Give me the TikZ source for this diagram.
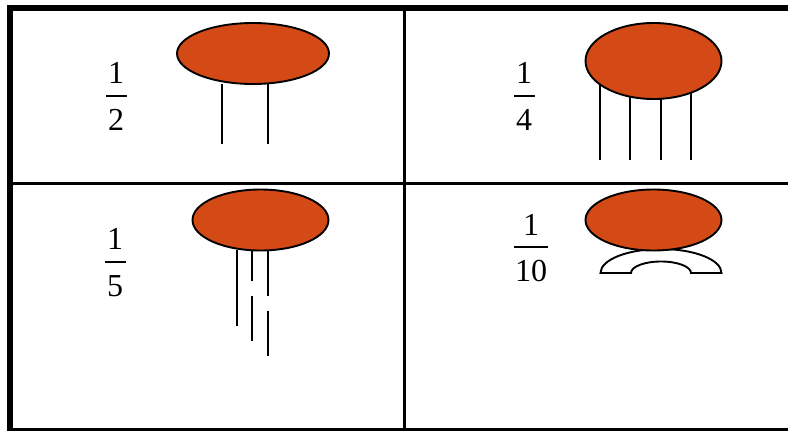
\documentclass[tikz,border=0pt]{standalone}
\usepackage{fontspec}
\setmainfont{Liberation Serif}
\definecolor{blobfill}{HTML}{D34A16}
\tikzset{
  blob/.style={draw=black,fill=blobfill,line width=1.9pt},
  drop/.style={draw=black,line width=1.9pt},
  thin grid/.style={draw=black,line width=3pt},
  frac num/.style={inner sep=0pt,anchor=base,font=\fontsize{32}{32}\selectfont},
  frac bar/.style={draw=black,line width=1.2pt},
}
\begin{document}
\begin{tikzpicture}[x=1pt,y=-1pt]
\useasboundingbox (0,0) rectangle (788,431);
\fill[white] (0,0) rectangle (788,431);
% grid
\draw[thin grid] (10,183) -- (788,183);
\draw[thin grid] (404,8) -- (404,431);
\draw[thin grid] (10,429.8) -- (788,429.8);
\draw[black,line width=5.8pt] (10.3,431) -- (10.3,8.2) -- (788,8.2);
% one half
\draw[blob] (253,53.5) ellipse (76 and 30.5);
\draw[drop] (222,84) -- (222,144);
\draw[drop] (268,84) -- (268,144);
\node[frac num] (n1) at (116,83.5) {1};
\draw[frac bar] (106,96) -- (127,96);
\node[frac num] (d1) at (116,130) {2};
% one quarter
\foreach \x in {600,630,661,691}{\draw[drop] (\x,85) -- (\x,160);}
\draw[blob] (653.5,61) ellipse (68 and 38);
\node[frac num] (n2) at (524,83.5) {1};
\draw[frac bar] (514,96) -- (535,96);
\node[frac num] (d2) at (524,130) {4};
% one fifth
\draw[drop] (237,250) -- (237,326);
\draw[drop] (252,250) -- (252,281);
\draw[drop] (252,296) -- (252,341);
\draw[drop] (268,250) -- (268,296);
\draw[drop] (268,311) -- (268,356);
\draw[blob] (260.5,220) ellipse (68 and 30.5);
\node[frac num] (n3) at (115,249.5) {1};
\draw[frac bar] (105,262) -- (126,262);
\node[frac num] (d3) at (115,296) {5};
% one tenth
\draw[drop,fill=white] (600.5,273) arc[start angle=180,end angle=360,x radius=60.5,y radius=24]
  -- (691,273) arc[start angle=0,end angle=-180,x radius=30,y radius=11.5] -- cycle;
\draw[blob] (653.5,220) ellipse (68 and 30.5);
\node[frac num] (n4) at (531,235) {1};
\draw[frac bar] (514,247) -- (548,247);
\node[frac num] (d4) at (531,281) {10};
\end{tikzpicture}
\end{document}
